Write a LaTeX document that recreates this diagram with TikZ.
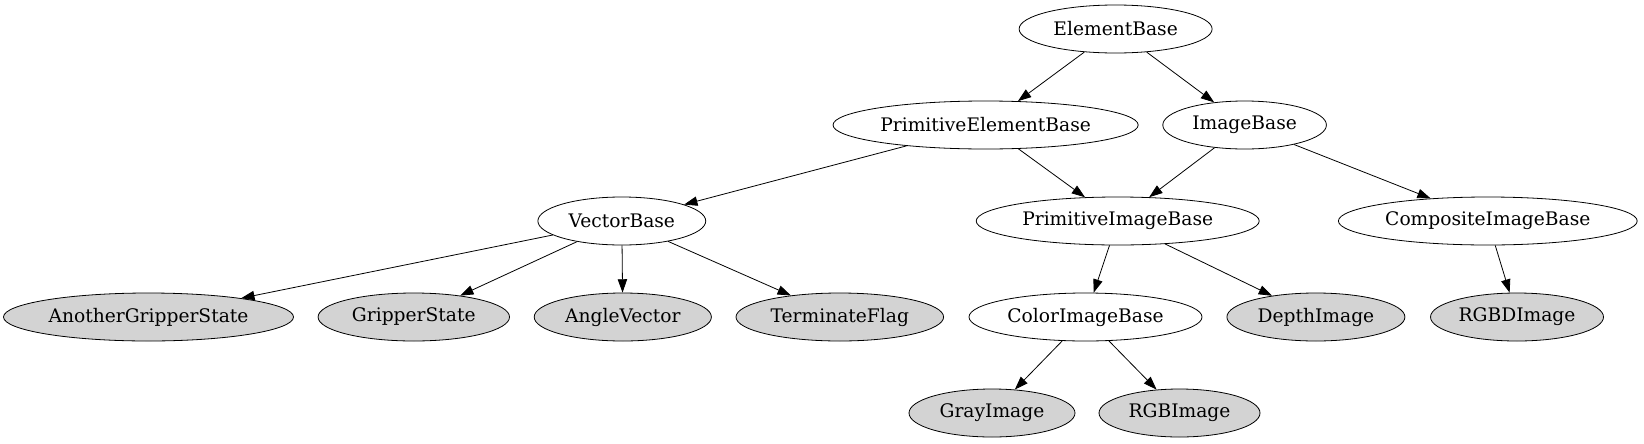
\documentclass[tikz,border=0pt]{standalone}
\usepackage{fontspec}
\setmainfont{DejaVu Serif}
\usetikzlibrary{shapes.geometric,arrows.meta}
\begin{document}
\begin{tikzpicture}[x=0.75pt,y=-0.75pt,
  cls/.style={ellipse,draw,line width=0.6pt,inner sep=0pt,minimum height=36pt,font=\fontsize{14}{16}\selectfont},
  leaf/.style={cls,fill={rgb,255:red,211;green,211;blue,211}},
  edge/.style={line width=0.6pt,-{Triangle[length=10pt,width=7pt]}}]
\useasboundingbox (0,0) rectangle (1644,443);
\node[cls,minimum width=144.75pt] (eb) at (1115.6,29) {ElementBase};
\node[cls,minimum width=228.9pt] (peb) at (985.6,125) {PrimitiveElementBase};
\node[cls,minimum width=122.7pt] (ib) at (1244.6,125) {ImageBase};
\node[cls,minimum width=125.9pt] (vb) at (621.8,221) {VectorBase};
\node[cls,minimum width=212.25pt] (pib) at (1117.7,221) {PrimitiveImageBase};
\node[cls,minimum width=224.1pt] (cib) at (1487.8,221) {CompositeImageBase};
\node[leaf,minimum width=217.5pt] (ags) at (148.5,317) {AnotherGripperState};
\node[leaf,minimum width=143.6pt] (gs) at (413.8,317) {GripperState};
\node[leaf,minimum width=132.9pt] (av) at (622.8,317) {AngleVector};
\node[leaf,minimum width=155.7pt] (tf) at (839.8,317) {TerminateFlag};
\node[cls,minimum width=174.75pt] (cob) at (1085.5,317) {ColorImageBase};
\node[leaf,minimum width=133.5pt] (di) at (1315.9,317) {DepthImage};
\node[leaf,minimum width=129.75pt] (rgbd) at (1517,317) {RGBDImage};
\node[leaf,minimum width=124.5pt] (gi) at (992,413) {GrayImage};
\node[leaf,minimum width=120.75pt] (rgb) at (1179.5,413) {RGBImage};
\draw[edge] (eb) -- (peb);
\draw[edge] (eb) -- (ib);
\draw[edge] (peb) -- (vb);
\draw[edge] (peb) -- (pib);
\draw[edge] (ib) -- (pib);
\draw[edge] (ib) -- (cib);
\draw[edge] (vb) -- (ags);
\draw[edge] (vb) -- (gs);
\draw[edge] (vb) -- (av);
\draw[edge] (vb) -- (tf);
\draw[edge] (pib) -- (cob);
\draw[edge] (pib) -- (di);
\draw[edge] (cib) -- (rgbd);
\draw[edge] (cob) -- (gi);
\draw[edge] (cob) -- (rgb);
\end{tikzpicture}
\end{document}
